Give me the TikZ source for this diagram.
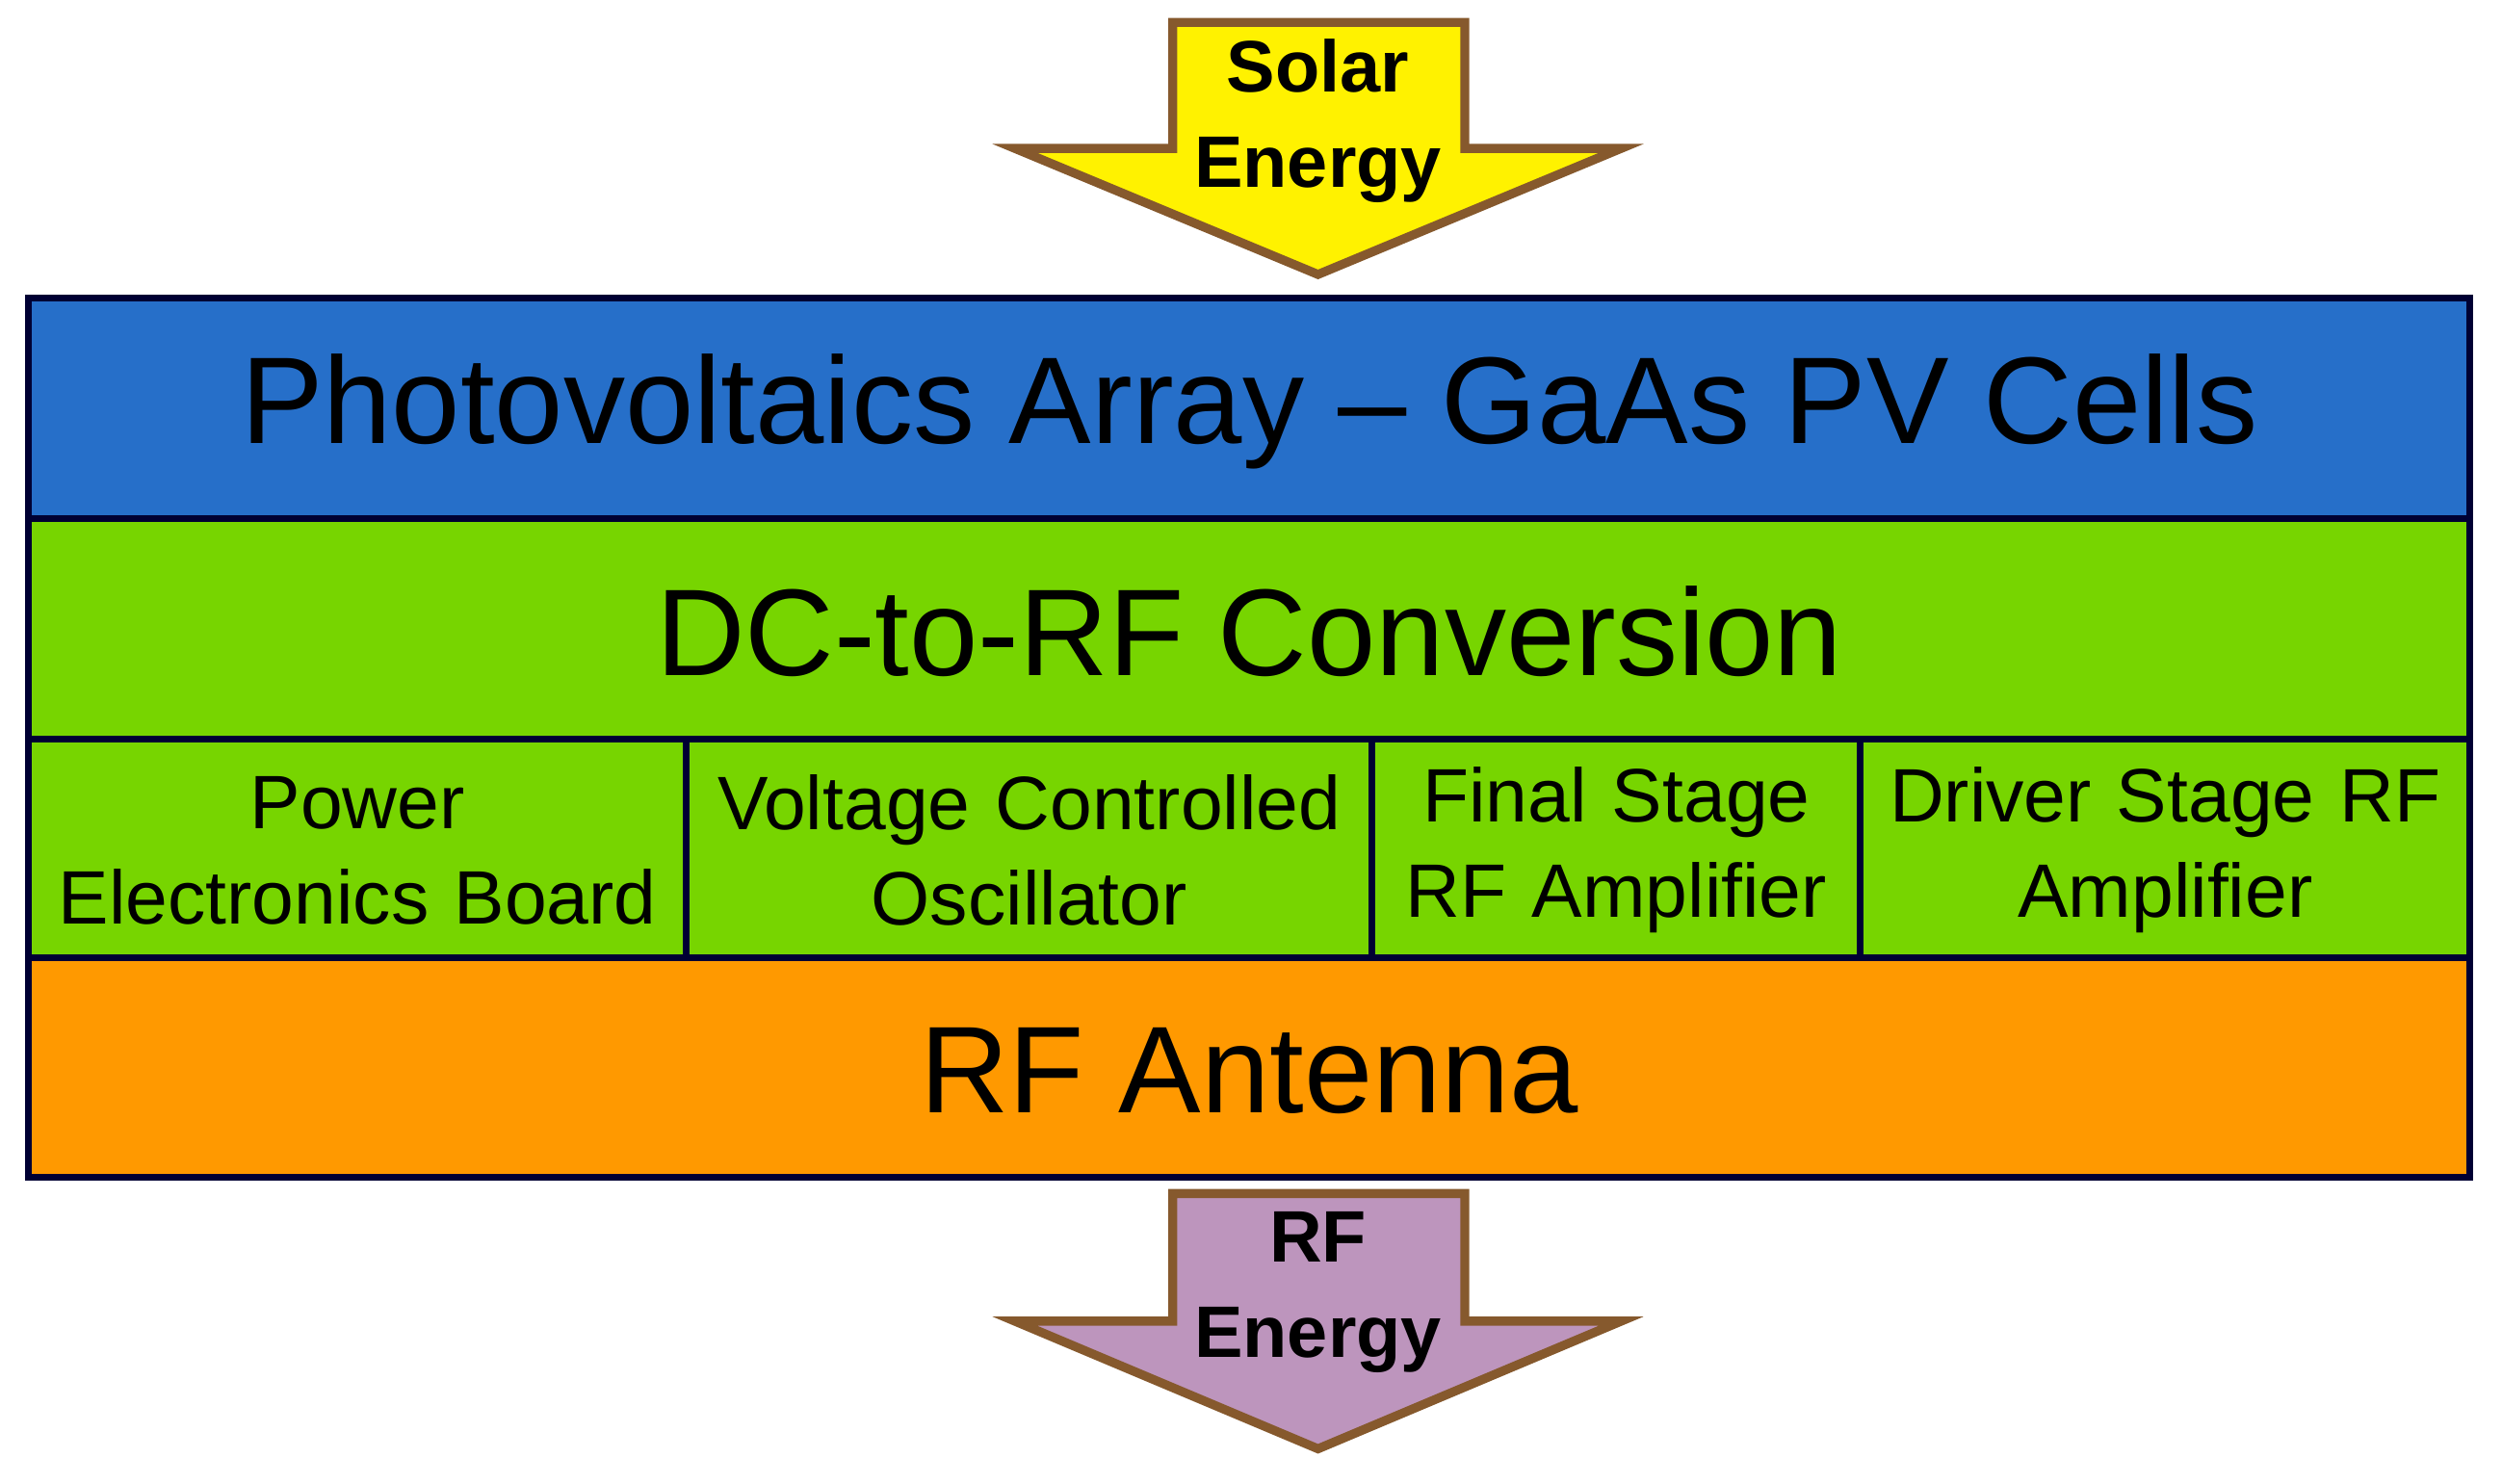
\documentclass[tikz,border=0pt]{standalone}
\usepackage{fontspec}
\setmainfont{Liberation Sans}
\begin{document}
\begin{tikzpicture}[x=0.01cm,y=-0.01cm,
  blk/.style={draw=black!80!blue,line width=1.2pt},
  arr/.style={draw=brown!70!black,line width=1.6pt,line join=miter},
  small/.style={font=\fontsize{13.5}{17}\selectfont,align=center,text width=3.9cm},
  big/.style={font=\fontsize{22}{26}\selectfont}]
\useasboundingbox (0,0) rectangle (1568,930);
\path[blk,fill=blue!55!cyan!75!black!85] (18,187) rectangle (1548,325);
\node[big] (pv) at (783,258) {Photovoltaics Array -- GaAs PV Cells};
\path[blk,fill=green!45!olive!60!lime] (18,325) rectangle (1548,463);
\node[big] (dc) at (783,396) {DC-to-RF Conversion};
\path[blk,fill=green!45!olive!60!lime] (18,463) rectangle (430,600);
\path[blk,fill=green!45!olive!60!lime] (430,463) rectangle (860,600);
\path[blk,fill=green!45!olive!60!lime] (860,463) rectangle (1166,600);
\path[blk,fill=green!45!olive!60!lime] (1166,463) rectangle (1548,600);
\node[small] (p) at (224,533) {Power\\ Electronics Board};
\node[small,text width=4.2cm] (v) at (645,533) {Voltage Controlled\\ Oscillator};
\node[small] (f) at (1013,533) {Final Stage\\ RF Amplifier};
\node[small] (d) at (1357,533) {Driver Stage RF\\ Amplifier};
\path[blk,fill=orange!80!yellow] (18,600) rectangle (1548,738);
\node[big] (ant) at (783,671) {RF Antenna};
\path[arr,fill=yellow] (735,14) -- (918,14) -- (918,93) -- (1016,93) -- (826,172) -- (636,93) -- (735,93) -- cycle;
\node[font=\fontsize{13}{17}\selectfont\bfseries,align=center] (s) at (826,76) {Solar\\ Energy};
\path[arr,fill=violet!35!white!90!black] (735,748) -- (918,748) -- (918,828) -- (1016,828) -- (826,908) -- (636,828) -- (735,828) -- cycle;
\node[font=\fontsize{13}{17}\selectfont\bfseries,align=center] (r) at (826,810) {RF\\ Energy};
\end{tikzpicture}
\end{document}
